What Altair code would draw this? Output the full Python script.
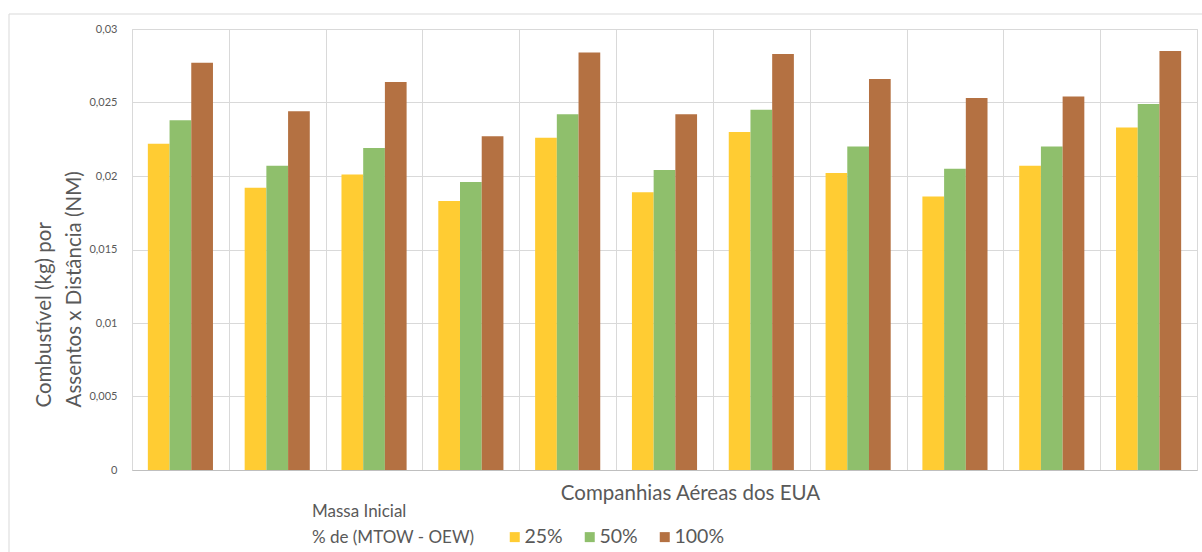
import altair as alt
import pandas as pd

# Eleven US airlines (unlabelled on the axis) and three initial-mass scenarios
airlines = [f"Cia {i}" for i in range(1, 12)]
scenarios = ["25%", "50%", "100%"]

fuel_25 = [0.0222, 0.0192, 0.0201, 0.0183, 0.0226, 0.0189, 0.0230, 0.0202, 0.0186, 0.0207, 0.0233]
fuel_50 = [0.0238, 0.0207, 0.0219, 0.0196, 0.0242, 0.0204, 0.0245, 0.0220, 0.0205, 0.0220, 0.0249]
fuel_100 = [0.0277, 0.0244, 0.0264, 0.0227, 0.0284, 0.0242, 0.0283, 0.0266, 0.0253, 0.0254, 0.0285]

colors = ["#FFCC33", "#8FBF6C", "#B47142"]
y_ticks = [0, 0.005, 0.01, 0.015, 0.02, 0.025, 0.03]

rows = []
for series, values in zip(scenarios, [fuel_25, fuel_50, fuel_100]):
    for airline, v in zip(airlines, values):
        rows.append({"airline": airline, "scenario": series, "value": v})
df = pd.DataFrame(rows)

FONT = "Lato"
GRAY = "#595959"

bars = alt.Chart(df).mark_bar().encode(
    x=alt.X(
        "airline:N",
        sort=airlines,
        scale=alt.Scale(paddingInner=0, paddingOuter=0),
        axis=alt.Axis(
            title="Companhias Aéreas dos EUA",
            labels=False,
            ticks=False,
            tickBand="extent",
            grid=True,
            gridColor="#D9D9D9",
            domainColor="#BFBFBF",
            titleFont=FONT,
            titleFontSize=20.5,
            titleFontWeight="normal",
            titleColor=GRAY,
            titlePadding=13,
            titleX=558,
        ),
    ),
    xOffset=alt.XOffset(
        "scenario:N",
        sort=scenarios,
        scale=alt.Scale(paddingInner=0, paddingOuter=0.73),
    ),
    y=alt.Y(
        "value:Q",
        scale=alt.Scale(domain=[0, 0.03], nice=False),
        axis=alt.Axis(
            values=y_ticks,
            labelExpr="replace(toString(datum.value), '.', ',')",
            title=["Combustível (kg) por", "Assentos x Distância (NM)"],
            titleFont=FONT,
            titleFontSize=20.5,
            titleFontWeight="normal",
            titleColor=GRAY,
            titleLineHeight=30,
            titleAlign="left",
            titleY=378,
            titlePadding=4,
            labelFont=FONT,
            labelFontSize=11,
            labelColor=GRAY,
            labelPadding=15,
            ticks=False,
            domain=False,
            gridColor="#D9D9D9",
        ),
    ),
    color=alt.Color(
        "scenario:N",
        sort=scenarios,
        scale=alt.Scale(domain=scenarios, range=colors),
        legend=alt.Legend(
            title=["Massa Inicial", "% de (MTOW - OEW)"],
            orient="none",
            legendX=180,
            legendY=498,
            direction="horizontal",
            titleOrient="left",
            titleAnchor="end",
            titleFont=FONT,
            titleFontSize=17,
            titleFontWeight="normal",
            titleColor=GRAY,
            titlePadding=30,
            titleLineHeight=26,
            labelFont=FONT,
            labelFontSize=19.5,
            labelColor=GRAY,
            labelOffset=0,
            columnPadding=17,
            symbolType="square",
            symbolSize=100,
            symbolStrokeWidth=0,
        ),
    ),
)

# Thin frame around the whole figure
frame = alt.Chart(pd.DataFrame({"k": [0]})).mark_rect(
    fill=None, stroke="#D9D9D9", strokeWidth=1
).encode(
    x=alt.value(-123), x2=alt.value(1080),
    y=alt.value(-15), y2=alt.value(530),
)

chart = alt.layer(frame, bars).properties(
    width=1065,
    height=441,
    autosize=alt.AutoSizeParams(type="none"),
    padding={"left": 132, "top": 29, "right": 5, "bottom": 82},
    background="white",
).configure_view(stroke="#D9D9D9")

chart.save("out.html", embed_options={"renderer": "svg", "actions": False})
